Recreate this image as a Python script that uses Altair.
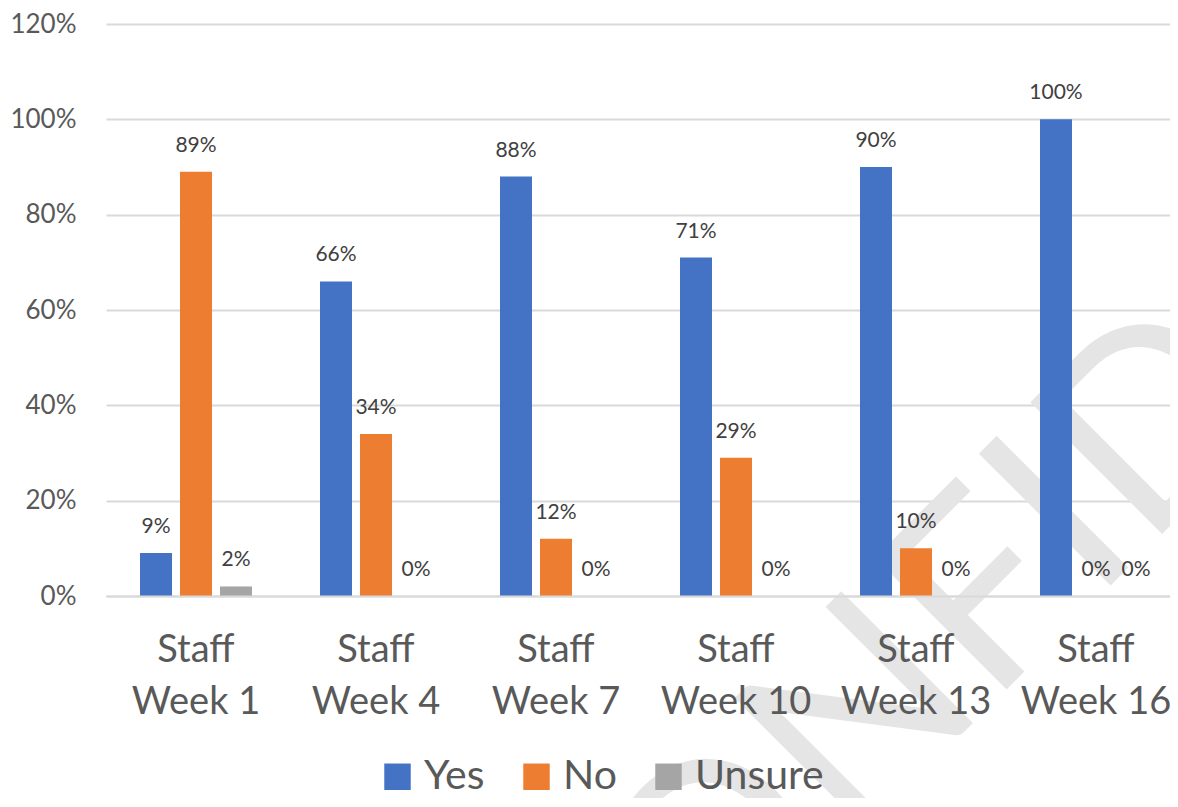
import altair as alt
import pandas as pd

categories = ["Staff Week 1", "Staff Week 4", "Staff Week 7", "Staff Week 10", "Staff Week 13", "Staff Week 16"]
series = ["Yes", "No", "Unsure"]
yes_vals = [9, 66, 88, 71, 90, 100]
no_vals = [89, 34, 12, 29, 10, 0]
unsure_vals = [2, 0, 0, 0, 0, 0]
colors = ["#4472C4", "#ED7D31", "#A5A5A5"]
y_ticks = [0, 0.2, 0.4, 0.6, 0.8, 1.0, 1.2]

rows = []
for s, vals in zip(series, [yes_vals, no_vals, unsure_vals]):
    for c, v in zip(categories, vals):
        rows.append({"cat": c, "series": s, "value": v / 100.0})
df = pd.DataFrame(rows)

FONT = "Lato"

x_enc = alt.X(
    "cat:N",
    sort=categories,
    title=None,
    scale=alt.Scale(paddingInner=0, paddingOuter=0, range=[0, 1080]),
    axis=alt.Axis(
        labelAngle=0,
        labelExpr="['Staff', replace(datum.label, 'Staff ', '')]",
        labelFont=FONT,
        labelFontSize=38,
        labelColor="#595959",
        labelLineHeight=52,
        labelPadding=35,
        ticks=False,
        domain=True,
        domainColor="#D9D9D9",
        domainWidth=2,
        grid=False,
        labelBaseline="top",
        zindex=2,
    ),
)
xoff_enc = alt.XOffset(
    "series:N",
    sort=series,
    scale=alt.Scale(paddingInner=0.2, paddingOuter=0.85),
)
y_enc = alt.Y(
    "value:Q",
    title=None,
    scale=alt.Scale(domain=[0, 1.2], nice=False),
    axis=alt.Axis(
        values=y_ticks,
        format=".0%",
        labelFont=FONT,
        labelFontSize=26,
        labelColor="#595959",
        labelPadding=30,
        ticks=False,
        domain=False,
        gridColor="#D9D9D9",
        gridWidth=2,
        zindex=0,
    ),
)
color_enc = alt.Color(
    "series:N",
    sort=series,
    scale=alt.Scale(domain=series, range=colors),
    legend=alt.Legend(
        title=None,
        orient="none",
        direction="horizontal",
        legendX=271,
        legendY=732,
        symbolType="square",
        symbolSize=700,
        symbolStrokeWidth=0,
        labelFont=FONT,
        labelFontSize=41,
        labelColor="#595959",
        labelOffset=6,
        columnPadding=31,
        padding=0,
        zindex=2,
    ),
)

watermark_df = pd.DataFrame({"t": ["CONFIDENTIAL"]})
watermark = alt.Chart(watermark_df).mark_text(
    angle=315,
    align="left",
    baseline="alphabetic",
    font="Lato",
    fontSize=260,
    color="#E5E5E5",
).encode(text="t:N", x=alt.value(476), y=alt.value(1090))

bars = alt.Chart(df).mark_bar().encode(
    x=x_enc, xOffset=xoff_enc, y=y_enc, color=color_enc
)
labels = alt.Chart(df).mark_text(
    baseline="middle", dy=-26, font=FONT, fontSize=21, color="#404040"
).encode(
    x=alt.X("cat:N", sort=categories),
    xOffset=alt.XOffset("series:N", sort=series),
    y="value:Q",
    text=alt.Text("value:Q", format=".0%"),
)

chart = alt.layer(watermark, bars, labels).properties(
    width=1064,
    height=572,
    autosize=alt.AutoSizeParams(type="none"),
    padding={"left": 98, "top": 16, "right": 0, "bottom": 202},
).configure_view(stroke=None)

chart.save("out.html", embed_options={"renderer": "svg", "actions": False})
